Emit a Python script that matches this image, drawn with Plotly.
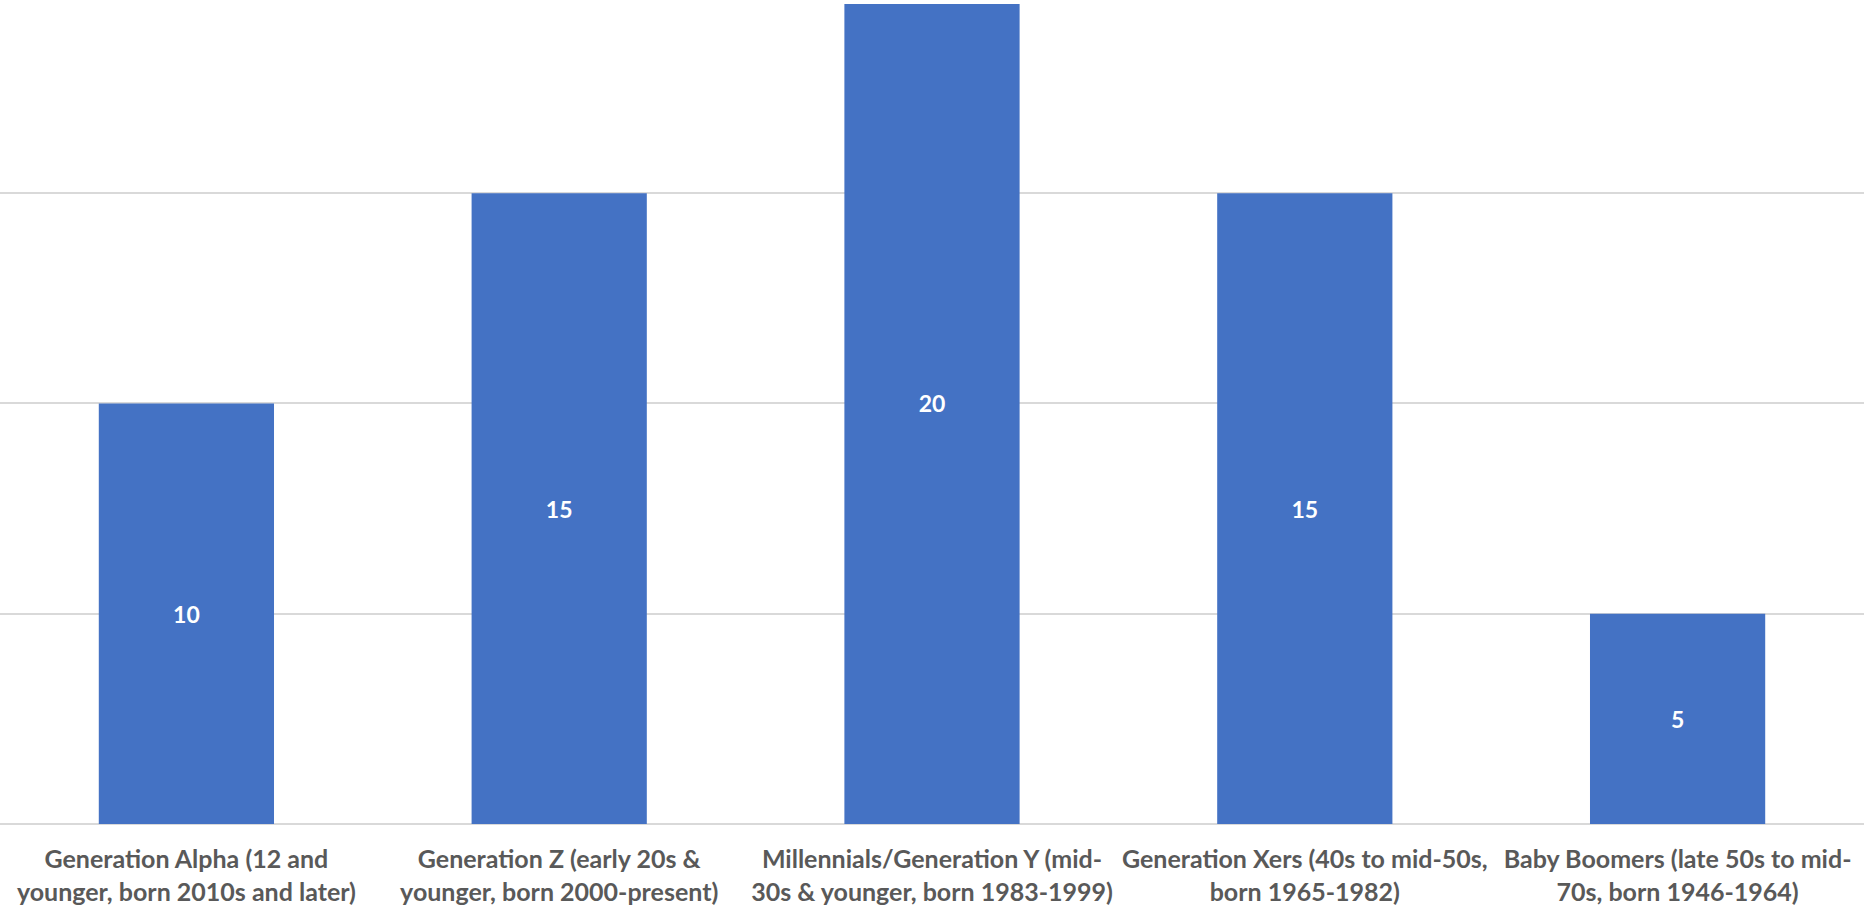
import plotly.graph_objects as go

categories = [
    "Generation Alpha (12 and<br>younger, born 2010s and later)",
    "Generation Z (early 20s &<br>younger, born 2000-present)",
    "Millennials/Generation Y (mid-<br>30s & younger, born 1983-1999)",
    "Generation Xers (40s to mid-50s,<br>born 1965-1982)",
    "Baby Boomers (late 50s to mid-<br>70s, born 1946-1964)",
]
values = [10, 15, 20, 15, 5]

BAR_COLOR = "#4472C4"
GRID_COLOR = "#D9D9D9"
TEXT_COLOR = "#595959"

fig = go.Figure(
    go.Bar(
        x=categories,
        y=values,
        marker=dict(color=BAR_COLOR, line=dict(width=0)),
        text=[str(v) for v in values],
        textposition="inside",
        insidetextanchor="middle",
        textangle=0,
        textfont=dict(family="Lato", size=23, color="white", weight="bold"),
        cliponaxis=True,
    )
)

fig.update_layout(
    width=1864,
    height=910,
    margin=dict(l=0, r=0, t=4, b=86),
    plot_bgcolor="white",
    paper_bgcolor="white",
    bargap=0.53,
    showlegend=False,
    font=dict(family="Lato", color=TEXT_COLOR),
)

fig.update_xaxes(
    showgrid=False,
    showline=False,
    ticks="",
    tickfont=dict(family="Lato", size=25, color=TEXT_COLOR, weight="bold"),
    ticklabelstandoff=18,
    automargin=False,
)

fig.update_yaxes(
    range=[0, 19.5],
    dtick=5,
    showticklabels=False,
    showgrid=True,
    gridcolor=GRID_COLOR,
    gridwidth=1.5,
    zeroline=True,
    zerolinecolor=GRID_COLOR,
    zerolinewidth=1.5,
    automargin=False,
)

fig.write_html("out.html")
